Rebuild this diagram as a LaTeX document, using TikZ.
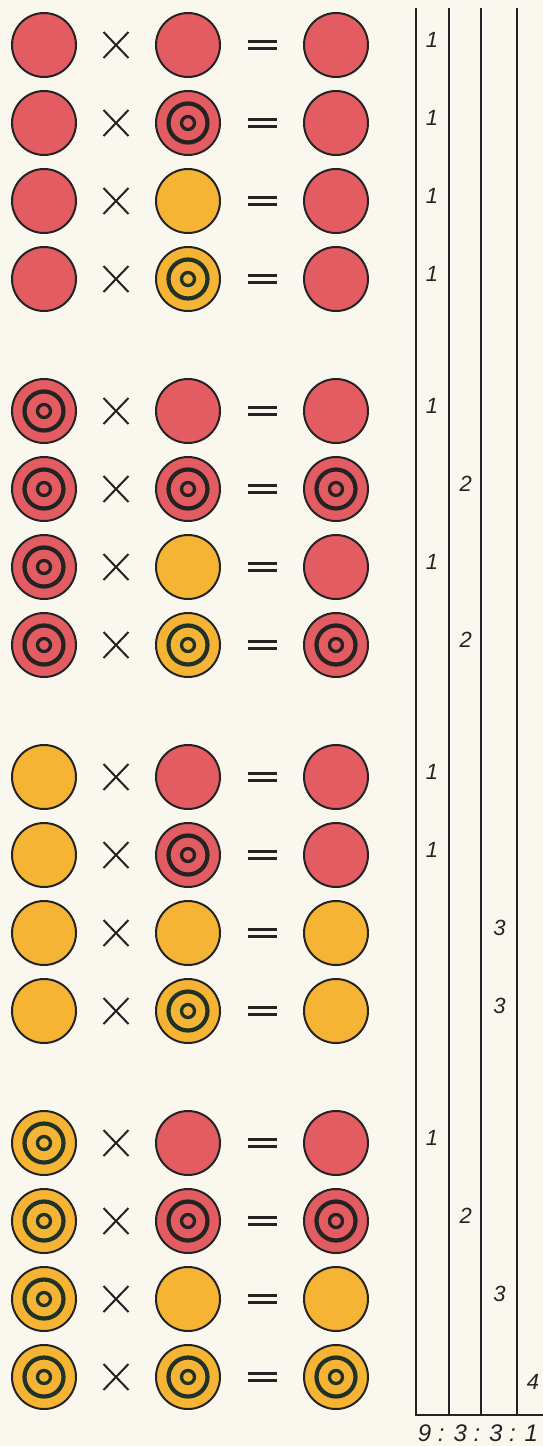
\documentclass[tikz,border=0pt]{standalone}
\usepackage{fontspec}
\newfontfamily\lanefont{Liberation Sans}
\definecolor{paper}{RGB}{250,247,239}
\definecolor{discred}{RGB}{226,92,98}
\definecolor{discyel}{RGB}{245,180,52}
\definecolor{ink}{RGB}{35,35,35}
\definecolor{inkgreen}{RGB}{30,50,40}
\tikzset{
  disc/.style={circle, draw=ink, line width=2pt, minimum size=64pt, inner sep=0pt}, % one plain disc
  pr/.style={disc, fill=discred},
  py/.style={disc, fill=discyel},
  ringed/.style={path picture={% the two dark rings of a target disc
      \draw[#1, line width=4.2pt] (path picture bounding box.center) circle (19.5pt);
      \draw[#1, line width=3.3pt] (path picture bounding box.center) circle (6.5pt);}},
  tr/.style={pr, ringed=ink},
  ty/.style={py, ringed=inkgreen},
  lane/.style={font=\lanefont\itshape\fontsize{22}{22}\selectfont, text=ink, inner sep=0pt},
  rule/.style={draw=ink, line width=1.8pt},
  sign/.style={draw=ink, line width=2pt},
}
\begin{document}
\begin{tikzpicture}[x=1pt, y=-1pt]
  \fill[paper] (0,0) rectangle (543,1446);
  \useasboundingbox (0,0) rectangle (543,1446);

  % left disc / rows: middle disc / result / lane
  \foreach \lt/\rows [count=\g from 0] in {
      pr/{pr/pr/1, tr/pr/1, py/pr/1, ty/pr/1},
      tr/{pr/pr/1, tr/tr/2, py/pr/1, ty/tr/2},
      py/{pr/pr/1, tr/pr/1, py/py/3, ty/py/3},
      ty/{pr/pr/1, tr/tr/2, py/py/3, ty/ty/4}} {
    \foreach \mt/\rt/\ln [count=\r from 0] in \rows {
      \pgfmathsetmacro\yy{45+366*\g+78*\r}
      \pgfmathsetmacro\nx{432+33.7*(\ln-1)}
      \pgfmathsetmacro\ny{\ln==4 ? \yy+5 : \yy-5}
      \node[\lt] (L-\g-\r) at (44,\yy) {};
      \node[\mt] (M-\g-\r) at (188,\yy) {};
      \node[\rt] (P-\g-\r) at (336,\yy) {};
      \draw[sign] (103.5,\yy-13) -- ++(25,26) (103.5,\yy+13) -- ++(25,-26);
      \draw[sign, line width=2.5pt] (248,\yy-3.4) -- ++(29,0) (248,\yy+3.4) -- ++(29,0);
      \node[lane] (n-\g-\r) at (\nx,\ny) {\ln};
    }
  }

  % lanes of the count
  \draw[rule] (416,8) -- (416,1415) -- (543,1415);
  \foreach \lx in {449,481,517}
    \draw[rule] (\lx,8) -- (\lx,1415);

  \node[lane, font=\lanefont\itshape\fontsize{24}{24}\selectfont] (ratio) at (478,1433) {9 : 3 : 3 : 1};
\end{tikzpicture}
\end{document}
